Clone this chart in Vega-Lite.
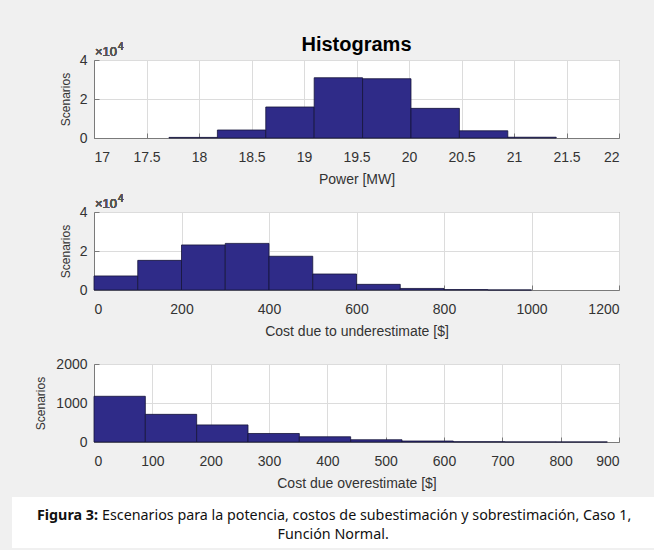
{
  "$schema": "https://vega.github.io/schema/vega-lite/v6.json",
  "background": "#f0f0f0",
  "padding": {"left": 12, "top": 34, "right": 0, "bottom": 0},
  "config": {
    "font": "Liberation Sans",
    "view": {"stroke": "#7a7a7a", "strokeWidth": 1, "fill": "white"},
    "axis": {
      "labelFont": "Liberation Sans", "labelFontSize": 14, "labelColor": "#333333",
      "titleFont": "Liberation Sans", "titleFontSize": 14, "titleFontWeight": "normal", "titleColor": "#333333",
      "domainColor": "#7a7a7a", "tickColor": "#7a7a7a", "tickSize": -5,
      "grid": true, "gridColor": "#dcdcdc", "gridWidth": 1
    },
    "axisX": {"labelPadding": 24, "labelBaseline": "middle", "titleY": 41, "titleBaseline": "middle"},
    "axisY": {"labelPadding": 12, "titleY": 39, "titleFontSize": 12}
  },
  "spacing": 2,
  "vconcat": [
    {
      "width": 525, "height": 78,
      "title": {"text": "Histograms", "font": "Liberation Sans", "fontSize": 20, "fontWeight": "bold", "color": "#000000", "offset": -13},
      "data": {"values": [
        {"x0": 17.714, "x1": 18.175, "count": 300},
        {"x0": 18.175, "x1": 18.636, "count": 4100},
        {"x0": 18.636, "x1": 19.097, "count": 15900},
        {"x0": 19.097, "x1": 19.558, "count": 30900},
        {"x0": 19.558, "x1": 20.019, "count": 30400},
        {"x0": 20.019, "x1": 20.48, "count": 15200},
        {"x0": 20.48, "x1": 20.941, "count": 3700},
        {"x0": 20.941, "x1": 21.402, "count": 400}
      ]},
      "resolve": {"axis": {"x": "independent", "y": "independent"}},
      "layer": [
        {
          "mark": {"type": "rect", "fill": "#2f2b88", "stroke": "#15143a", "strokeWidth": 0.8},
          "encoding": {
            "x": {"field": "x0", "type": "quantitative", "scale": {"domain": [17, 22], "nice": false, "zero": false},
                  "axis": {"values": [17, 17.5, 18, 18.5, 19, 19.5, 20, 20.5, 21, 21.5, 22], "format": "~g", "title": "Power [MW]"}},
            "x2": {"field": "x1"},
            "y": {"field": "count", "type": "quantitative", "scale": {"domain": [0, 40000], "nice": false},
                  "axis": {"values": [0, 20000, 40000], "labelExpr": "datum.value / 10000", "title": "Scenarios", "titleX": -22}},
            "y2": {"datum": 0}
          }
        },
        {
          "mark": {"type": "text", "text": "×10", "align": "left", "baseline": "alphabetic", "dy": -4, "dx": 1, "fontSize": 13, "color": "#555555"},
          "encoding": {"x": {"datum": 17, "axis": null}, "y": {"datum": 40000, "axis": null}}
        },
        {
          "mark": {"type": "text", "text": "4", "align": "left", "baseline": "alphabetic", "dy": -10, "dx": 24, "fontSize": 10, "color": "#555555"},
          "encoding": {"x": {"datum": 17, "axis": null}, "y": {"datum": 40000, "axis": null}}
        }
      ]
    },
    {
      "width": 525, "height": 78,
      "data": {"values": [
        {"x0": 0, "x1": 100, "count": 7200},
        {"x0": 100, "x1": 200, "count": 15200},
        {"x0": 200, "x1": 300, "count": 23100},
        {"x0": 300, "x1": 400, "count": 23900},
        {"x0": 400, "x1": 500, "count": 17300},
        {"x0": 500, "x1": 600, "count": 8200},
        {"x0": 600, "x1": 700, "count": 2900},
        {"x0": 700, "x1": 800, "count": 800},
        {"x0": 800, "x1": 900, "count": 200},
        {"x0": 900, "x1": 1000, "count": 30}
      ]},
      "resolve": {"axis": {"x": "independent", "y": "independent"}},
      "layer": [
        {
          "mark": {"type": "rect", "fill": "#2f2b88", "stroke": "#15143a", "strokeWidth": 0.8},
          "encoding": {
            "x": {"field": "x0", "type": "quantitative", "scale": {"domain": [0, 1200], "nice": false},
                  "axis": {"values": [0, 200, 400, 600, 800, 1000, 1200], "format": "d", "title": "Cost due to underestimate [$]"}},
            "x2": {"field": "x1"},
            "y": {"field": "count", "type": "quantitative", "scale": {"domain": [0, 40000], "nice": false},
                  "axis": {"values": [0, 20000, 40000], "labelExpr": "datum.value / 10000", "title": "Scenarios", "titleX": -22}},
            "y2": {"datum": 0}
          }
        },
        {
          "mark": {"type": "text", "text": "×10", "align": "left", "baseline": "alphabetic", "dy": -4, "dx": 1, "fontSize": 13, "color": "#555555"},
          "encoding": {"x": {"datum": 0, "axis": null}, "y": {"datum": 40000, "axis": null}}
        },
        {
          "mark": {"type": "text", "text": "4", "align": "left", "baseline": "alphabetic", "dy": -10, "dx": 24, "fontSize": 10, "color": "#555555"},
          "encoding": {"x": {"datum": 0, "axis": null}, "y": {"datum": 40000, "axis": null}}
        },
        {
          "mark": {"type": "rule", "opacity": 0},
          "encoding": {
            "x": {"datum": 0, "type": "quantitative",
                  "axis": {"orient": "top", "offset": 22, "domainColor": "#f0f0f0", "ticks": false, "labels": false, "grid": false, "title": null}}
          }
        }
      ]
    },
    {
      "width": 525, "height": 78,
      "data": {"values": [
        {"x0": 0, "x1": 88, "count": 1172},
        {"x0": 88, "x1": 176, "count": 709},
        {"x0": 176, "x1": 264, "count": 438},
        {"x0": 264, "x1": 352, "count": 218},
        {"x0": 352, "x1": 440, "count": 134},
        {"x0": 440, "x1": 528, "count": 58},
        {"x0": 528, "x1": 616, "count": 25},
        {"x0": 616, "x1": 704, "count": 8},
        {"x0": 704, "x1": 792, "count": 3},
        {"x0": 792, "x1": 880, "count": 1}
      ]},
      "resolve": {"axis": {"x": "independent"}},
      "layer": [
        {
          "mark": {"type": "rect", "fill": "#2f2b88", "stroke": "#15143a", "strokeWidth": 0.8},
          "encoding": {
            "x": {"field": "x0", "type": "quantitative", "scale": {"domain": [0, 900], "nice": false},
                  "axis": {"values": [0, 100, 200, 300, 400, 500, 600, 700, 800, 900], "format": "d", "title": "Cost due overestimate [$]"}},
            "x2": {"field": "x1"},
            "y": {"field": "count", "type": "quantitative", "scale": {"domain": [0, 2000], "nice": false},
                  "axis": {"values": [0, 1000, 2000], "format": "d", "title": "Scenarios", "titleX": -47}},
            "y2": {"datum": 0}
          }
        },
        {
          "mark": {"type": "rule", "opacity": 0},
          "encoding": {
            "x": {"datum": 0, "type": "quantitative",
                  "axis": {"orient": "top", "offset": 22, "domainColor": "#f0f0f0", "ticks": false, "labels": false, "grid": false, "title": null}}
          }
        }
      ]
    },
    {
      "width": 560, "height": 53,
      "view": {"fill": null, "stroke": null},
      "data": {"values": [{}]},
      "resolve": {"axis": {"x": "independent"}},
      "layer": [
        {
          "mark": {"type": "rect", "fill": "#ffffff"},
          "encoding": {
            "x": {"datum": -0.1464, "type": "quantitative", "scale": {"domain": [0, 1]}, "axis": null},
            "x2": {"datum": 1},
            "y": {"datum": 0, "type": "quantitative", "scale": {"domain": [0, 53], "reverse": true}, "axis": null},
            "y2": {"datum": 53}
          }
        },
        {
          "mark": {"type": "text", "text": "Figura 3:", "font": "Noto Sans", "fontWeight": "bold", "fontSize": 14.3, "align": "right", "baseline": "middle", "color": "#111111", "dx": -2},
          "encoding": {
            "x": {"datum": 0.0107, "type": "quantitative", "axis": null},
            "y": {"datum": 20, "type": "quantitative", "axis": null}
          }
        },
        {
          "mark": {"type": "text", "text": "Escenarios para la potencia, costos de subestimación y sobrestimación, Caso 1,", "font": "Noto Sans", "fontSize": 14.3, "align": "left", "baseline": "middle", "color": "#111111", "dx": 2},
          "encoding": {
            "x": {"datum": 0.0107, "type": "quantitative", "axis": null},
            "y": {"datum": 20, "type": "quantitative", "axis": null}
          }
        },
        {
          "mark": {"type": "text", "text": "Función Normal.", "font": "Noto Sans", "fontSize": 14.3, "align": "center", "baseline": "middle", "color": "#111111"},
          "encoding": {
            "x": {"datum": 0.427, "type": "quantitative", "axis": null},
            "y": {"datum": 39, "type": "quantitative", "axis": null}
          }
        },
        {
          "mark": {"type": "rule", "opacity": 0},
          "encoding": {
            "x": {"datum": 0, "type": "quantitative",
                  "axis": {"orient": "top", "offset": 4, "domainColor": "#f0f0f0", "ticks": false, "labels": false, "grid": false, "title": null}}
          }
        }
      ]
    }
  ]
}
